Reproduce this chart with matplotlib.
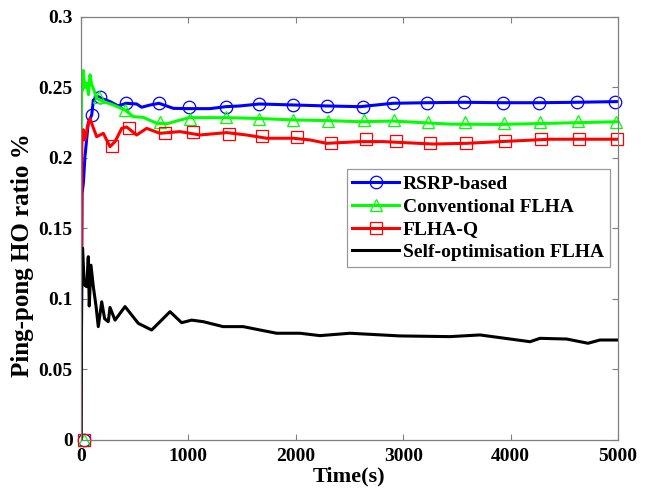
import numpy as np
import matplotlib
matplotlib.use("Agg")
import matplotlib.pyplot as plt

plt.rcParams['font.family'] = ['Liberation Serif', 'DejaVu Serif']
plt.rcParams['font.weight'] = 'bold'

# RSRP-based
t_rsrp = [0, 10, 22, 37, 68, 100, 115, 161, 200, 270, 347, 420, 518, 565, 640, 726, 860, 1006,
          1201, 1350, 1480, 1660, 1975, 2290, 2600, 2905, 3222, 3566, 3929, 4265, 4618, 5000]
v_rsrp = [0, 0.175, 0.182, 0.201, 0.225, 0.2305, 0.241, 0.2435, 0.242, 0.240, 0.2369, 0.2388,
          0.2383, 0.236, 0.2375, 0.2388, 0.2352, 0.235, 0.235, 0.2364, 0.2369, 0.2383, 0.2376,
          0.2369, 0.2364, 0.2388, 0.2392, 0.2395, 0.2392, 0.2392, 0.2395, 0.240]
mt_rsrp = [30, 100, 176, 420, 726, 1006, 1350, 1660, 1975, 2290, 2626, 2905, 3222, 3566, 3929,
           4265, 4618, 4972]
mv_rsrp = [0, 0.2305, 0.2435, 0.2388, 0.2388, 0.236, 0.2364, 0.2383, 0.2376, 0.2369, 0.2364,
           0.2388, 0.2392, 0.2395, 0.2392, 0.2392, 0.2395, 0.240]

# Conventional FLHA
t_conv = [0, 3, 6, 15, 22, 35, 53, 70, 84, 100, 115, 146, 208, 301, 410, 487, 580, 705, 800,
          1006, 1350, 1660, 1975, 2300, 2600, 2905, 3436, 3900, 4367, 5000]
v_conv = [0, 0.22, 0.2577, 0.248, 0.262, 0.25, 0.253, 0.245, 0.259, 0.252, 0.2494, 0.2423, 0.24,
          0.2376, 0.234, 0.2293, 0.2288, 0.2246, 0.2243, 0.2286, 0.2286, 0.228, 0.227, 0.2265,
          0.2257, 0.2262, 0.224, 0.2238, 0.2246, 0.2257]
mt_conv = [30, 171, 410, 735, 1015, 1347, 1660, 1976, 2302, 2638, 2911, 3233, 3572, 3935,
           4274, 4627, 4981]
mv_conv = [0, 0.2435, 0.234, 0.2257, 0.2277, 0.2288, 0.2277, 0.227, 0.2265, 0.227, 0.227,
           0.2257, 0.2253, 0.2246, 0.2253, 0.2265, 0.2257]

# FLHA-Q
t_q = [0, 8, 22, 37, 60, 84, 115, 146, 208, 270, 317, 379, 425, 518, 611, 735, 921, 1108, 1356,
       1542, 1728, 1976, 2131, 2287, 2600, 2815, 3281, 3591, 3901, 4367, 5000]
v_q = [0, 0.21, 0.22, 0.2128, 0.222, 0.228, 0.2213, 0.2151, 0.2175, 0.208, 0.2116, 0.221, 0.222,
       0.2163, 0.221, 0.2175, 0.2187, 0.2163, 0.218, 0.2163, 0.214, 0.214, 0.2128, 0.2104,
       0.2116, 0.2116, 0.2099, 0.2104, 0.2116, 0.2133, 0.2133]
mt_q = [30, 290, 446, 781, 1045, 1377, 1687, 2007, 2324, 2653, 2930, 3250, 3585, 3948, 4283,
        4640, 4988]
mv_q = [0, 0.2087, 0.2215, 0.2175, 0.2182, 0.2168, 0.2158, 0.2147, 0.2109, 0.2133, 0.2123,
        0.2109, 0.2109, 0.2123, 0.2133, 0.2133, 0.2133]

# Self-optimisation FLHA
t_self = [0, 8, 15, 30, 53, 68, 77, 93, 115, 140, 161, 193, 220, 254, 270, 317, 410, 534, 658,
          829, 937, 1030, 1139, 1323, 1510, 1667, 1822, 2039, 2225, 2505, 2970, 3436, 3715, 4181,
          4274, 4522, 4721, 4832, 5000]
v_self = [0, 0.13, 0.136, 0.11, 0.1087, 0.130, 0.095, 0.124, 0.1087, 0.095, 0.0804, 0.098, 0.086,
          0.0839, 0.094, 0.085, 0.0946, 0.0827, 0.078, 0.091, 0.0832, 0.085, 0.0839, 0.0804,
          0.0804, 0.078, 0.0757, 0.0757, 0.074, 0.0757, 0.0738, 0.0733, 0.0745, 0.0697, 0.0721,
          0.0716, 0.0686, 0.0709, 0.0709]

fig = plt.figure(figsize=(6.51, 4.98), dpi=100)
ax = fig.add_axes([0.1244, 0.1165, 0.8249, 0.8494])

series = [
    (t_rsrp, v_rsrp, mt_rsrp, mv_rsrp, (0, 0, 1), 'o', 'RSRP-based'),
    (t_conv, v_conv, mt_conv, mv_conv, (0, 1, 0), '^', 'Conventional FLHA'),
    (t_q, v_q, mt_q, mv_q, (1, 0, 0), 's', 'FLHA-Q'),
]
handles = []
for t, v, mt, mv, c, m, lab in series:
    ax.plot(t, v, color=c, linewidth=2.2)
    ax.plot(mt, mv, linestyle='none', marker=m, markersize=9, markerfacecolor='none',
            markeredgecolor=c, markeredgewidth=0.9, clip_on=False)
    h, = ax.plot([], [], color=c, linewidth=2.2, marker=m, markersize=9,
                 markerfacecolor='none', markeredgecolor=c, markeredgewidth=0.9, label=lab)
    handles.append(h)
h, = ax.plot(t_self, v_self, color='black', linewidth=2.2, label='Self-optimisation FLHA')
handles.append(h)

ax.set_xlim(0, 5000)
ax.set_ylim(0, 0.3)
ax.set_xticks([0, 1000, 2000, 3000, 4000, 5000])
ax.set_yticks([0, 0.05, 0.1, 0.15, 0.2, 0.25, 0.3])
ax.set_yticklabels(['0', '0.05', '0.1', '0.15', '0.2', '0.25', '0.3'])
ax.tick_params(direction='in', top=True, right=True, length=4, color='#808080',
               labelsize=14, pad=6)
for sp in ax.spines.values():
    sp.set_color('#808080')
    sp.set_linewidth(0.9)

ax.set_xlabel('Time(s)', fontsize=16, fontweight='bold', labelpad=1)
ax.set_ylabel('Ping-pong HO ratio %', fontsize=18, fontweight='bold')
ax.yaxis.set_label_coords(-0.088, 0.437)

leg = ax.legend(handles=handles, loc='upper right', bbox_to_anchor=(0.985, 0.64),
                fontsize=14, frameon=True, fancybox=False, handlelength=2.4,
                handletextpad=0.2, borderpad=0.3, labelspacing=0.27, borderaxespad=0)
leg.get_frame().set_edgecolor('#808080')
leg.get_frame().set_linewidth(0.9)

plt.savefig('out.png', dpi=100)
